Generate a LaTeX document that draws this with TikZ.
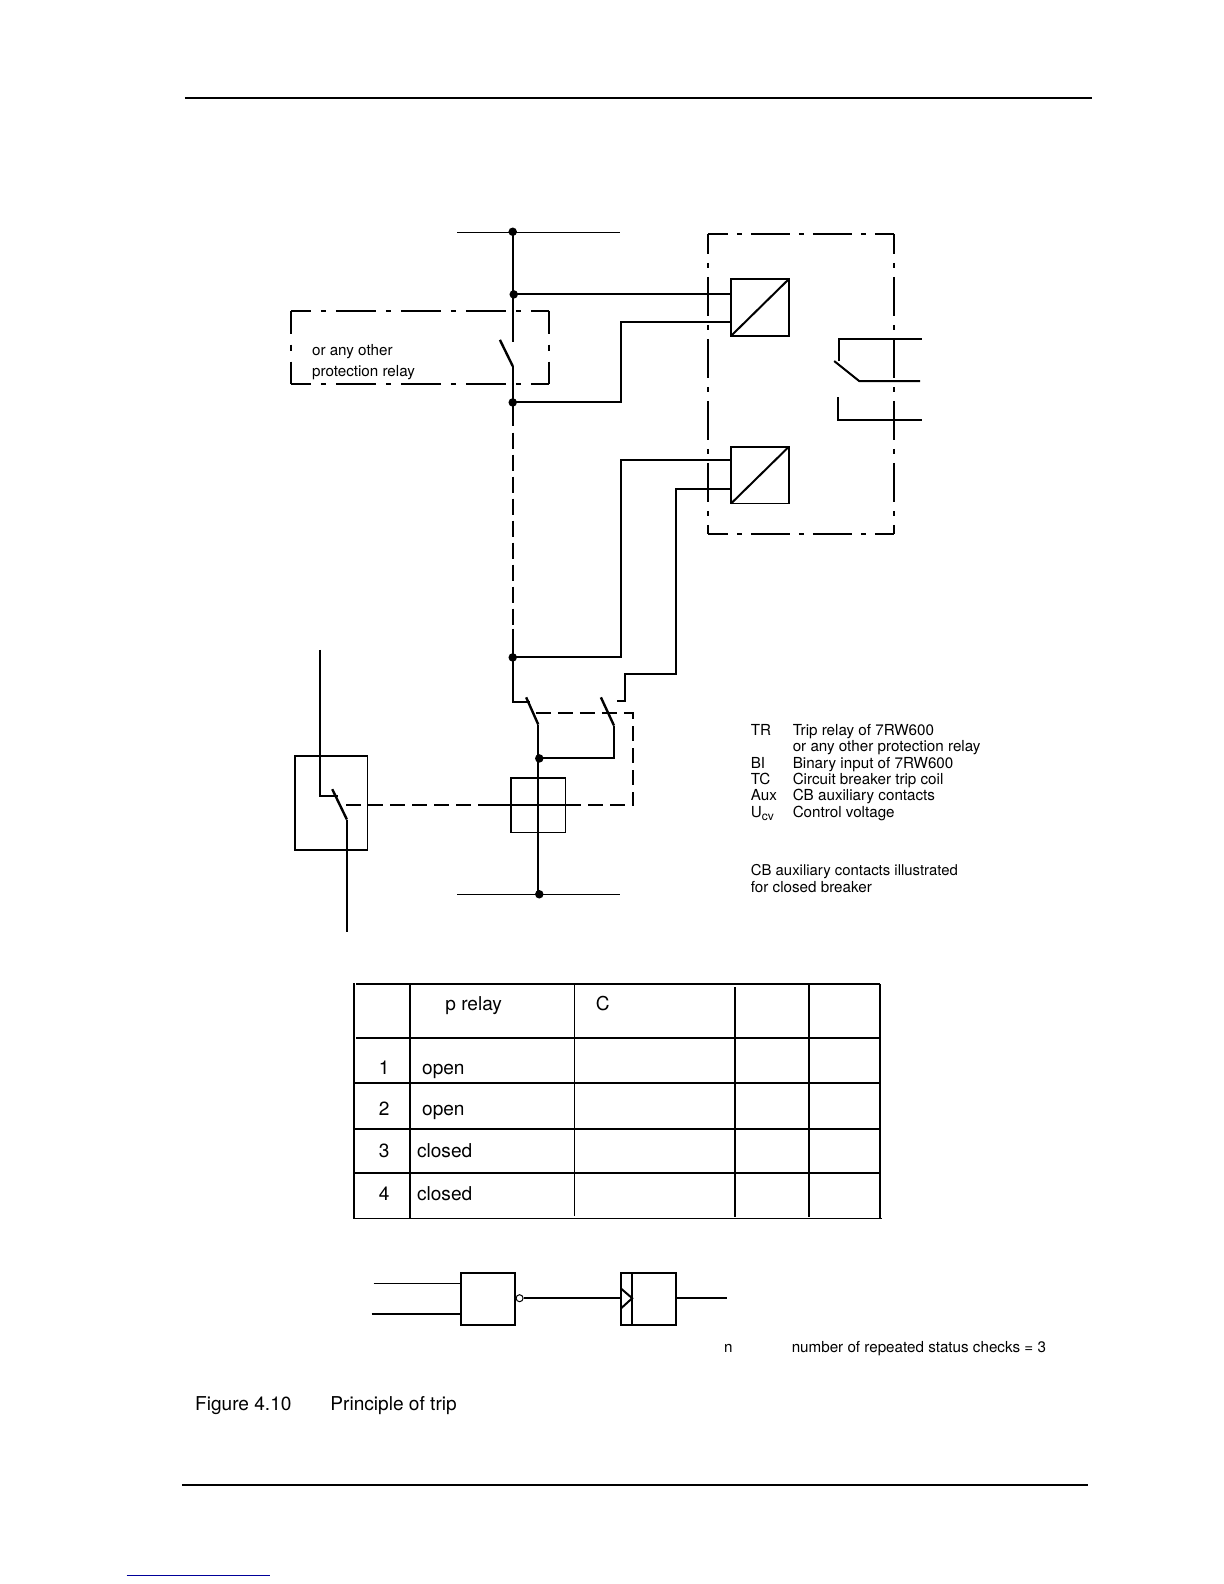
\documentclass[tikz,border=0pt]{standalone}
\usepackage{fontspec}
\setmainfont{TeX Gyre Heros}
\newcommand{\fs}[1]{\fontsize{#1}{#1}\selectfont}
\tikzset{
  base/.style={line width=2pt,line cap=butt,line join=miter},
  blade/.style={line width=2.4pt,line cap=butt},
  thinw/.style={line width=1.1pt},
  medw/.style={line width=2pt},
  dashw/.style={line width=2pt,dash pattern=on 16pt off 6pt},
  shortdash/.style={line width=2pt,dash pattern=on 15pt off 7pt},
  ddbig/.style={line width=2pt,dash pattern=on 39pt off 9pt on 5pt off 9pt,dash phase=19pt},
  ddsmall/.style={line width=2pt,dash pattern=on 40pt off 10pt on 5pt off 10pt,dash phase=20pt},
  ddshort/.style={line width=2pt,dash pattern=on 23pt off 11pt on 6pt off 11pt on 23pt off 10pt},
  frame/.style={inner sep=0pt,outer sep=0pt},
  bx/.style={draw,line width=1.6pt,fill=none,inner sep=0pt,outer sep=0pt},
  bxb/.style={draw,line width=2pt,fill=none,inner sep=0pt,outer sep=0pt},
  dot/.style={circle,fill=black,inner sep=0pt,minimum size=8.5pt},
  leg/.style={anchor=base west,inner sep=0pt,outer sep=0pt,font=\fs{15.2}},
  tbl/.style={anchor=base west,inner sep=0pt,outer sep=0pt,font=\fs{19.1}},
  tblc/.style={anchor=base,inner sep=0pt,outer sep=0pt,font=\fs{19.1}},
  hrow/.style={line width=2pt},
  vrow/.style={line width=2pt},
  vthin/.style={line width=1.3pt},
}
\begin{document}
\begin{tikzpicture}[x=1.0099pt,y=-1.0099pt]
\useasboundingbox (0,-0.5) rectangle (1212,1568);
% page rules
\coordinate (hl) at (183,96.5); \coordinate (hr) at (1081,96.5);
\coordinate (fl) at (180,1470); \coordinate (fr) at (1077,1470);
\draw[medw] (hl) -- (hr);
\draw[medw] (fl) -- (fr);
\coordinate (ll) at (125.5,1560); \coordinate (lr) at (267,1560);
\draw[line width=0.9pt,color=blue!60!black] (ll) -- (lr);

% rails
\coordinate (rtl) at (453,230); \coordinate (rtr) at (614,230);
\coordinate (rbl) at (453,885); \coordinate (rbr) at (614,885);
\draw[thinw] (rtl) -- (rtr);
\draw[thinw] (rbl) -- (rbr);

% frames (dash-dot)
\node[frame,minimum width=184pt*1.0099,minimum height=297pt*1.0099] (dev) at (793,379.5) {};
\node[frame,minimum width=256pt*1.0099,minimum height=73pt*1.0099] (rel) at (416,343.5) {};
\draw[ddbig] (dev.north west) -- (dev.north east);
\draw[ddbig] (dev.south west) -- (dev.south east);
\draw[ddbig] (dev.north west) -- (dev.south west);
\draw[ddbig] (dev.north east) -- (dev.south east);
\draw[ddsmall] (rel.north west) -- (rel.north east);
\draw[ddsmall] (rel.south west) -- (rel.south east);
\draw[ddshort] (rel.north west) -- (rel.south west);
\draw[ddshort] (rel.north east) -- (rel.south east);

% boxes
\node[bx,minimum width=57pt*1.0099,minimum height=56pt*1.0099] (bia) at (752.5,304) {};
\node[bx,minimum width=57pt*1.0099,minimum height=56pt*1.0099] (bib) at (752.5,470) {};
\draw[base] (bia.south west) -- (bia.north east);
\draw[base] (bib.south west) -- (bib.north east);
\node[bx,minimum width=54pt*1.0099,minimum height=54pt*1.0099] (tc) at (533,797) {};
\node[bx,minimum width=72pt*1.0099,minimum height=93pt*1.0099] (cb) at (328,794.5) {};

% junctions
\node[dot] (j1) at (507.7,229) {};
\node[dot] (j2) at (508.7,291) {};
\node[dot] (j3) at (507.7,398) {};
\node[dot] (j4) at (507.7,650.5) {};
\node[dot] (j5) at (534,750.5) {};
\node[dot] (j6) at (534,885) {};

% top part
\coordinate (tr1) at (507.7,338);
\coordinate (tr2) at (495,336); \coordinate (tr3) at (507.7,362);
\coordinate (sa) at (507.7,421.8); \coordinate (sb) at (507.7,427.8); \coordinate (sc) at (507.7,622);
\draw[base] (j1.center) -- (tr1);
\draw[blade] (tr2) -- (tr3);
\draw[base] (tr3) -- (j3.center) -- (sa);
\draw[dashw] (sb) -- (sc);
\draw[base] (sc) -- (j4.center);
\coordinate (a1) at (615,398); \coordinate (a2) at (615,318);
\draw[base] (j2.center) -- (bia.west |- j2);
\draw[base] (j3.center) -- (a1) -- (a2) -- (bia.west |- a2);
\coordinate (b1) at (615,650.5); \coordinate (b2) at (615,455);
\draw[base] (j4.center) -- (b1) -- (b2) -- (bib.west |- b2);
\coordinate (c1) at (611,694); \coordinate (c2) at (619,694); \coordinate (c3) at (619,667);
\coordinate (c4) at (669,667); \coordinate (c5) at (669,484);
\draw[base] (c1) -- (c2) -- (c3) -- (c4) -- (c5) -- (bib.west |- c5);

% aux contacts
\coordinate (d1) at (507.7,695); \coordinate (d2) at (525,695);
\coordinate (s1a) at (521,690); \coordinate (s1b) at (533,717);
\coordinate (s2a) at (595,690); \coordinate (s2b) at (608,718);
\coordinate (s2c) at (608,750.5);
\draw[base] (j4.center) -- (d1) -- (d2);
\draw[blade] (s1a) -- (s1b);
\draw[blade] (s2a) -- (s2b);
\draw[base] (s1b) -- (s1b |- j6);
\draw[base] (s2b) -- (s2c) -- (j5.center);
\coordinate (e1) at (530.5,706); \coordinate (e2) at (627,706); \coordinate (e3) at (627,797);
\coordinate (e4) at (561.5,797); \coordinate (e5) at (488,797); \coordinate (e6) at (340,797);
\draw[shortdash] (e1) -- (e2) -- (e3) -- (e4);
\draw[base] (e4) -- (e5);
\draw[shortdash] (e5) -- (e6);

% breaker contact
\coordinate (f1) at (317,643); \coordinate (f2) at (317,788); \coordinate (f3) at (335,788);
\coordinate (f4) at (329,781); \coordinate (f5) at (343.5,811); \coordinate (f6) at (343.5,922);
\draw[base] (f1) -- (f2) -- (f3);
\draw[blade] (f4) -- (f5);
\draw[base] (f5) -- (f6);

% device output contact
\coordinate (g1) at (831,357); \coordinate (g2) at (831,335); \coordinate (g3) at (912.5,335);
\coordinate (g4) at (826,357); \coordinate (g5) at (851,377); \coordinate (g6) at (911,377);
\coordinate (g7) at (830,393); \coordinate (g8) at (830,415); \coordinate (g9) at (912.5,415);
\draw[base] (g1) -- (g2) -- (g3);
\draw[base] (g4) -- (g5) -- (g6);
\draw[base] (g7) -- (g8) -- (g9);

% labels
\node[leg] (t1) at (309,351.5) {or any other};
\node[leg] (t2) at (309,372.5) {protection relay};
\node[leg] (l1a) at (743.5,728) {TR};
\node[leg] (l1b) at (785,728) {Trip relay of 7RW600};
\node[leg] (l2b) at (785,744) {or any other protection relay};
\node[leg] (l3a) at (743.5,760) {BI};
\node[leg] (l3b) at (785,760) {Binary input of 7RW600};
\node[leg] (l4a) at (743.5,776.5) {TC};
\node[leg] (l4b) at (785,776.5) {Circuit breaker trip coil};
\node[leg] (l5a) at (743.5,792.5) {Aux};
\node[leg] (l5b) at (785,792.5) {CB auxiliary contacts};
\node[leg] (l6a) at (743.5,809) {U\raisebox{-3pt}{\fs{12}cv}};
\node[leg] (l6b) at (785,809) {Control voltage};
\node[leg,font=\fs{14.9}] (l7) at (743.5,866.5) {CB auxiliary contacts illustrated};
\node[leg,font=\fs{15.2}] (l8) at (743.5,883.5) {for closed breaker};

% table
\foreach \yy in {974,1027}{
  \draw[hrow] (353,\yy) -- (871,\yy);
}
\foreach \yy in {1072,1117,1161}{
  \draw[hrow] (351,\yy) -- (871,\yy);
}
\draw[vthin] (350,1206) -- (873,1206);
\draw[vrow] (351,973) -- (351,1207);
\draw[vrow] (406,974) -- (406,1207);
\draw[vthin] (569,974) -- (569,1204);
\draw[vrow] (728,977) -- (728,1205);
\draw[vrow] (801,974) -- (801,1205);
\draw[vrow] (871.5,974) -- (871.5,1207);
\node[tbl] (h1) at (441,1000) {p relay};
\node[tbl] (h2) at (590,1000) {C};
\node[tblc] (r1) at (380.5,1063.5) {1};
\node[tblc] (r2) at (380.5,1104.5) {2};
\node[tblc] (r3) at (380.5,1145.5) {3};
\node[tblc] (r4) at (380.5,1188.5) {4};
\node[tbl] (v1) at (418,1063.5) {open};
\node[tbl] (v2) at (418,1104.5) {open};
\node[tbl] (v3) at (413,1145.5) {closed};
\node[tbl] (v4) at (413,1188.5) {closed};

% logic
\node[bxb,minimum width=54pt*1.0099,minimum height=52pt*1.0099] (gate) at (483,1286) {};
\node[bxb,minimum width=54pt*1.0099,minimum height=52pt*1.0099] (ctr) at (642,1286) {};
\node[circle,draw,line width=1pt,inner sep=0pt,minimum size=7pt] (bub) at (514.5,1285) {};
\coordinate (i1) at (370,1270); \coordinate (i2) at (368,1301);
\coordinate (o1) at (670.5,1285); \coordinate (o2) at (720,1285);
\coordinate (k1) at (626,1260); \coordinate (k2) at (626,1313);
\coordinate (m1) at (615,1275.5); \coordinate (m2) at (626,1285); \coordinate (m3) at (615,1295);
\draw[thinw] (i1) -- (gate.west |- i1);
\draw[medw] (i2) -- (gate.west |- i2);
\draw[base] (bub) -- (ctr.west |- bub);
\draw[base] (o1) -- (o2);
\draw[base] (k1) -- (k2);
\draw[base] (m1) -- (m2) -- (m3);
\node[leg] (n1) at (717,1338.5) {n};
\node[leg] (n2) at (784,1338.5) {number of repeated status checks = 3};
\node[anchor=base west,inner sep=0pt,font=\fs{19.1}] (cap1) at (193,1396.5) {Figure 4.10};
\node[anchor=base west,inner sep=0pt,font=\fs{19.1}] (cap2) at (327,1396.5) {Principle of trip};
\end{tikzpicture}
\end{document}
